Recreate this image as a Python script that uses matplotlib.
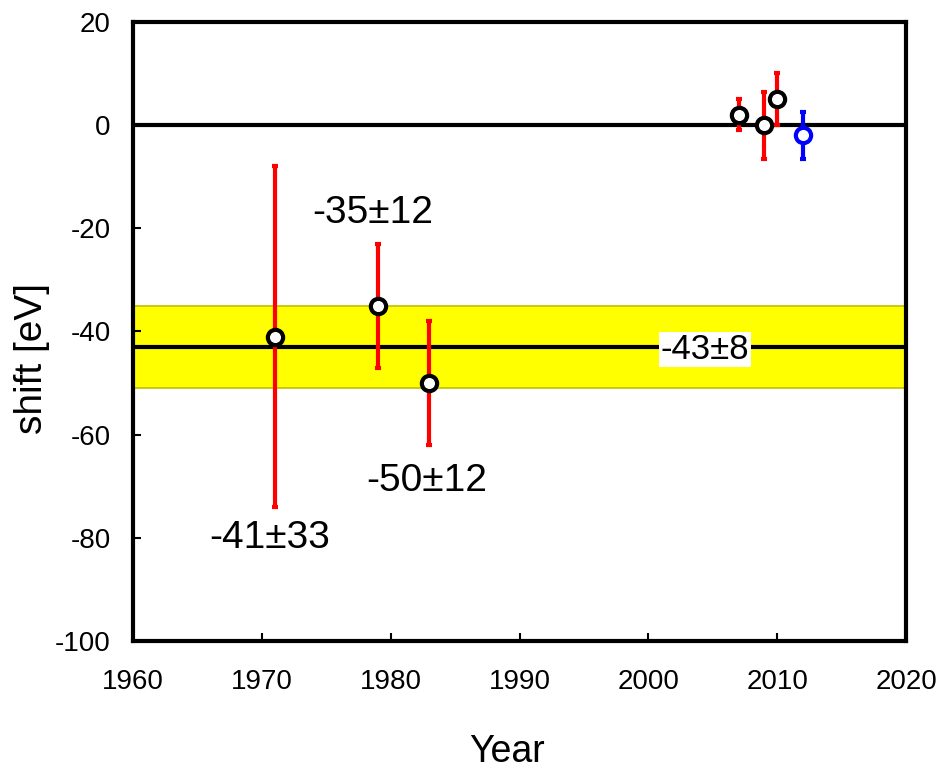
import matplotlib
matplotlib.use('Agg')
import matplotlib.pyplot as plt

plt.rcParams['font.family'] = ['Liberation Sans', 'DejaVu Sans']
plt.rcParams['axes.unicode_minus'] = False

# old measurements (red error bars, labelled)
old_years = [1971, 1979, 1983]
old_shift = [-41, -35, -50]
old_err = [33, 12, 12]
old_labels = ['-41±33', '-35±12', '-50±12']
label_pos = [(1970.6, -80), (1978.6, -17), (1982.8, -69)]

# recent measurements
new_years = [2007, 2009, 2010]
new_shift = [2, 0, 5]
new_err = [3, 6.5, 5]

blue_years = [2012]
blue_shift = [-2]
blue_err = [4.5]

# weighted mean of the old values
mean_val = -43
mean_err = 8
mean_label = '-43±8'

fig = plt.figure(figsize=(9.43, 7.71), dpi=100)
ax = fig.add_axes([0.141, 0.1686, 0.820, 0.803])

ax.axhspan(mean_val - mean_err, mean_val + mean_err, facecolor='#ffff00',
           edgecolor='#c0c000', linewidth=1.2, zorder=0)
ax.axhline(mean_val, color='black', linewidth=3, zorder=1)
ax.axhline(0, color='black', linewidth=3, zorder=1)

style = dict(fmt='o', elinewidth=3, capsize=2.5, capthick=3, markersize=11,
             markerfacecolor='white', markeredgewidth=3, zorder=3)
ax.errorbar(old_years, old_shift, yerr=old_err, ecolor='red',
            markeredgecolor='black', **style)
ax.errorbar(new_years, new_shift, yerr=new_err, ecolor='red',
            markeredgecolor='black', **style)
ax.errorbar(blue_years, blue_shift, yerr=blue_err, ecolor='blue',
            markeredgecolor='blue', **style)

for txt, (x, y) in zip(old_labels, label_pos):
    ax.text(x, y, txt, fontsize=28, ha='center', va='center')

ax.text(2004.4, mean_val - 0.5, mean_label, fontsize=25, ha='center', va='center',
        bbox=dict(facecolor='white', edgecolor='none', pad=1), zorder=2)

ax.set_xlim(1960, 2020)
ax.set_ylim(-100, 20)
ax.set_xticks(range(1960, 2021, 10))
ax.set_yticks(range(-100, 21, 20))
ax.tick_params(direction='in', length=6, width=1.5, labelsize=20)
ax.tick_params(axis='x', pad=20)
ax.tick_params(axis='y', pad=16)
for s in ax.spines.values():
    s.set_linewidth(3)

ax.set_xlabel('Year', fontsize=27, va='center')
ax.xaxis.set_label_coords(0.484, -0.18)
ax.set_ylabel('shift [eV]', fontsize=28, va='center')
ax.yaxis.set_label_coords(-0.131, 0.457)

fig.savefig('out.png', dpi=100)
